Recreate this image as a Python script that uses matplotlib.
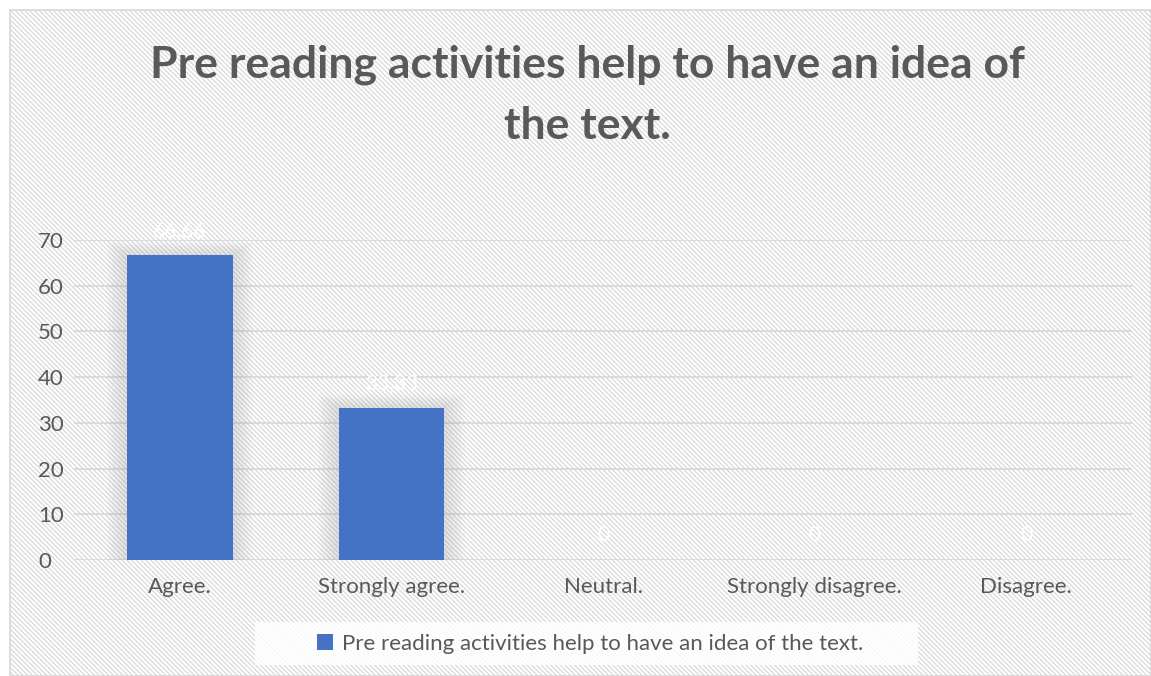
import numpy as np
import matplotlib.pyplot as plt
import matplotlib as mpl
from matplotlib.patches import Rectangle

mpl.rcParams["font.family"] = ["Lato", "DejaVu Sans"]
mpl.rcParams["hatch.color"] = "#eeeeee"
mpl.rcParams["hatch.linewidth"] = 0.9

categories = ["Agree.", "Strongly agree.", "Neutral.", "Strongly disagree.", "Disagree."]
values = [66.66, 33.33, 0, 0, 0]
value_labels = ["66,66", "33,33", "0", "0", "0"]
series_name = "Pre reading activities help to have an idea of the text."
title = "Pre reading activities help to have an idea of\nthe text."

W, H = 1151, 676
fig = plt.figure(figsize=(W / 100, H / 100), dpi=100)
fig.patch.set_facecolor("white")

# hatched chart background with a light border
bg = Rectangle((10 / W, 0), (W - 10) / W, (H - 10) / H, transform=fig.transFigure,
               facecolor="white", edgecolor="#d9d9d9", hatch="\\" * 7, lw=1.2, zorder=-10)
fig.patches.append(bg)

# legend backdrop
fig.patches.append(Rectangle((255 / W, 1 - 665 / H), (918 - 255) / W, 43 / H,
                             transform=fig.transFigure, facecolor="white",
                             edgecolor="none", alpha=0.85, zorder=-5))

ax = fig.add_axes([74 / W, (H - 560) / H, (1132 - 74) / W, (560 - 240) / H])
ax.set_facecolor("none")
x = np.arange(len(categories))

# soft shadow behind the bars
for k in range(8):
    pad = 0.012 * (k + 1)
    for xi, v in zip(x, values):
        if v > 0:
            ax.add_patch(Rectangle((xi - 0.25 - pad, 0), 0.5 + 2 * pad, v + pad * 30,
                                   facecolor="#9a9a9a", alpha=0.035, lw=0, zorder=1))

bars = ax.bar(x, values, width=0.5, color="#4472c4", zorder=3, label=series_name)
for xi, v, lab in zip(x, values, value_labels):
    ax.text(xi, v + 3.2, lab, ha="center", va="bottom", color="white",
            fontsize=15, zorder=4)

ax.set_xlim(-0.5, len(categories) - 0.5)
ax.set_ylim(0, 70)
ax.set_yticks(range(0, 71, 10))
ax.set_xticks(x)
ax.set_xticklabels(categories)
ax.tick_params(axis="both", length=0, labelsize=16, colors="#595959")
ax.tick_params(axis="y", pad=26)
ax.tick_params(axis="x", pad=12)
for lab in ax.get_yticklabels():
    lab.set_horizontalalignment("left")
ax.grid(axis="y", color="#d9d9d9", lw=1.3, zorder=0)
ax.set_axisbelow(True)
for s in ax.spines.values():
    s.set_visible(False)

fig.text(587 / W, 1 - 95 / H, title, ha="center", va="center", fontsize=32,
         fontweight="bold", color="#595959", linespacing=1.65)

leg = fig.legend(handles=[bars], labels=[series_name], loc="center",
                 bbox_to_anchor=(590 / W, 1 - 644 / H), frameon=False, fontsize=16,
                 handlelength=0.7, handleheight=0.7, handletextpad=0.4,
                 borderpad=0.5, borderaxespad=0)
for t in leg.get_texts():
    t.set_color("#595959")

fig.savefig("out.png", dpi=100)
